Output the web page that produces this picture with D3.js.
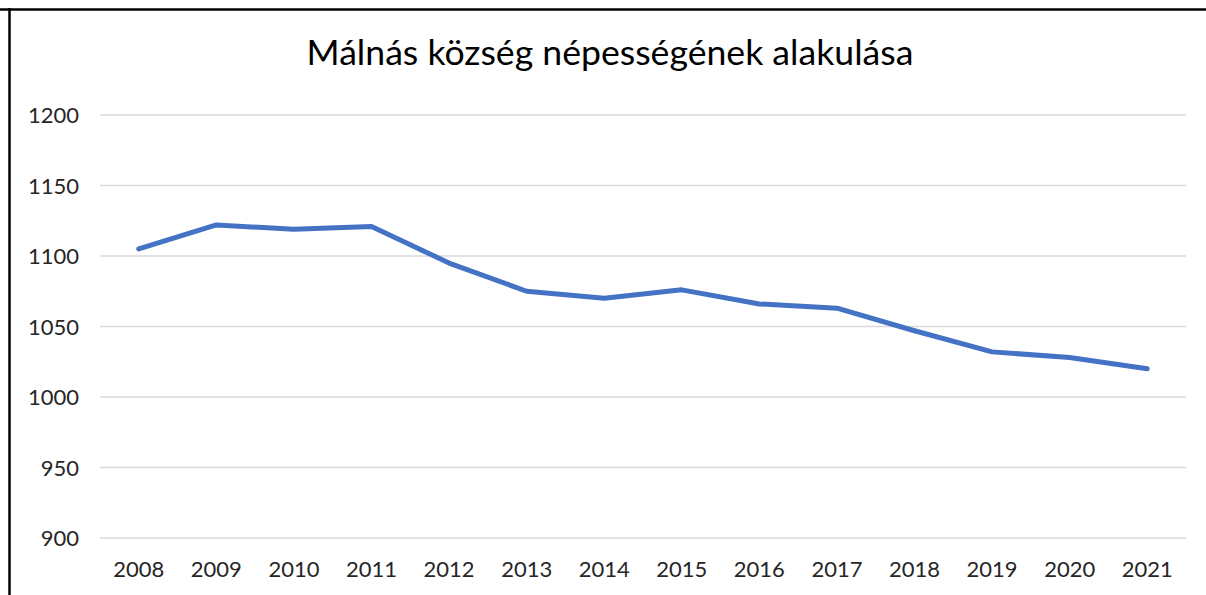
<!DOCTYPE html>
<html>
<head>
<meta charset="utf-8">
<script src="https://cdn.jsdelivr.net/npm/d3@7"></script>
<style>
  html, body { margin: 0; padding: 0; background: #fff; }
  svg { display: block; }
</style>
</head>
<body>
<svg id="chart" width="1206" height="595"></svg>
<script>
const titleText = "Málnás község népességének alakulása";
const years = ["2008","2009","2010","2011","2012","2013","2014","2015","2016","2017","2018","2019","2020","2021"];
const population = [1105, 1122, 1119, 1121, 1095, 1075, 1070, 1076, 1066, 1063, 1047, 1032, 1028, 1020];
const yTicks = [900, 950, 1000, 1050, 1100, 1150, 1200];

const svg = d3.select("#chart");
const font = "Lato, 'Open Sans', sans-serif";
const textColor = "#262626";

// frame (top and left edges visible)
svg.append("line").attr("x1", 0).attr("x2", 1206).attr("y1", 9.5).attr("y2", 9.5)
  .attr("stroke", "#000").attr("stroke-width", 2.5);
svg.append("line").attr("x1", 9.5).attr("x2", 9.5).attr("y1", 8).attr("y2", 595)
  .attr("stroke", "#000").attr("stroke-width", 2.5);

const x = d3.scaleBand().domain(years).range([100, 1186]);
const y = d3.scaleLinear().domain([900, 1200]).range([538, 115]);

// gridlines
svg.append("g").selectAll("line").data(yTicks).join("line")
  .attr("x1", 100).attr("x2", 1186)
  .attr("y1", d => y(d)).attr("y2", d => y(d))
  .attr("stroke", "#d9d9d9").attr("stroke-width", 1.5);

// y axis labels
const yAxis = svg.append("g").attr("transform", "translate(79,0)")
  .call(d3.axisLeft(y).tickValues(yTicks).tickFormat(d3.format("d")).tickSize(0).tickPadding(0));
yAxis.select(".domain").remove();
yAxis.selectAll("text").attr("font-family", font).attr("font-size", 22)
  .attr("fill", textColor).attr("dy", "0.35em");

// x axis labels
const xAxis = svg.append("g").attr("transform", "translate(0,561)")
  .call(d3.axisBottom(x).tickSize(0).tickPadding(0));
xAxis.select(".domain").remove();
xAxis.selectAll("text").attr("font-family", font).attr("font-size", 22)
  .attr("fill", textColor).attr("dy", "0.71em");

// line
const line = d3.line()
  .x((d, i) => x(years[i]) + x.bandwidth() / 2)
  .y(d => y(d));
svg.append("path").datum(population)
  .attr("d", line)
  .attr("fill", "none")
  .attr("stroke", "#4472C4")
  .attr("stroke-width", 5)
  .attr("stroke-linecap", "round")
  .attr("stroke-linejoin", "round");

// title
const title = svg.append("text")
  .attr("x", 610).attr("y", 65)
  .attr("text-anchor", "middle")
  .attr("font-family", font)
  .attr("font-size", 30)
  .attr("fill", "#000")
  .text(titleText);
const w = title.node().getComputedTextLength();
if (w > 0) title.attr("font-size", 30 * 607 / w);
</script>
</body>
</html>
